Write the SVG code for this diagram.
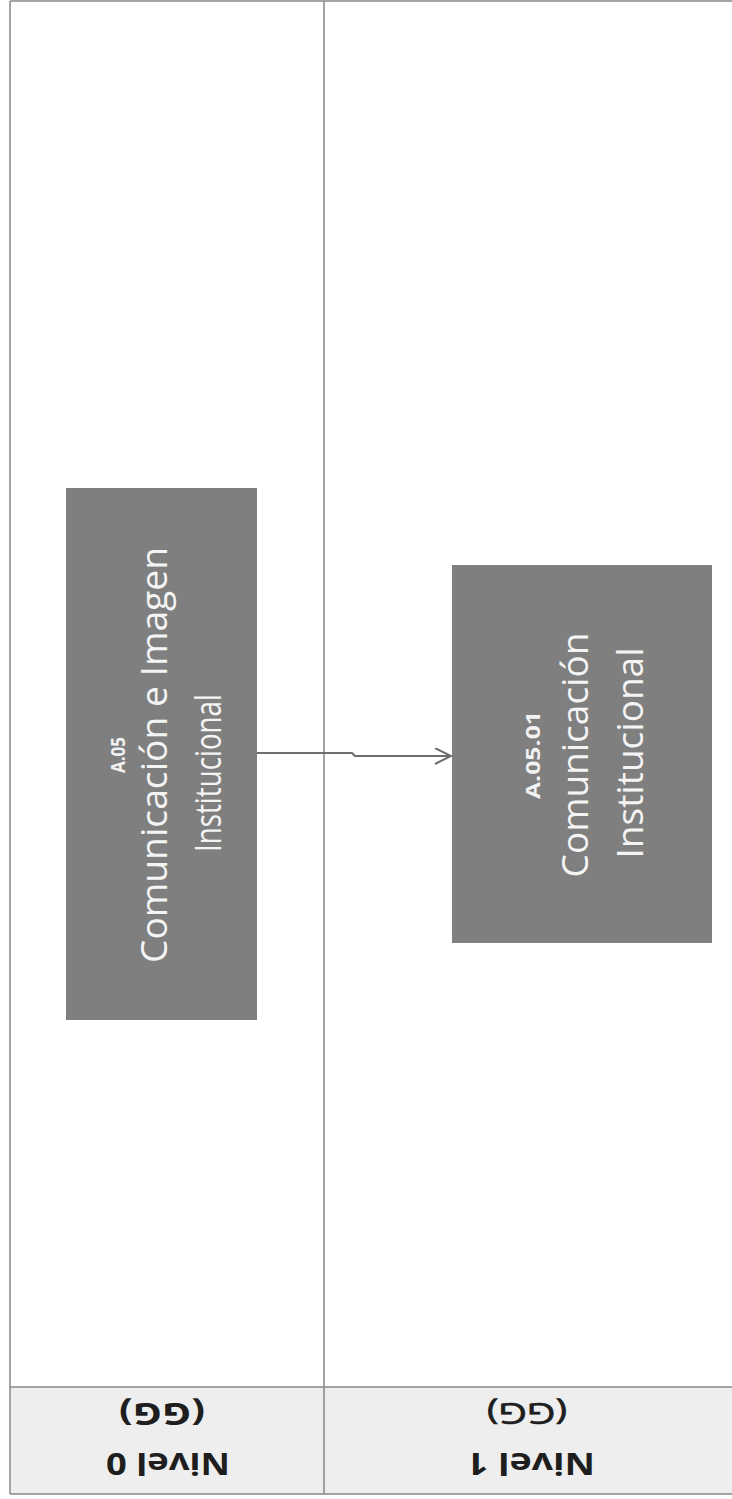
<svg xmlns="http://www.w3.org/2000/svg" width="732" height="1499" viewBox="0 0 732 1499">
  <defs>
    <style>
      .head { fill: #eeeeee; stroke: none; }
      .rule { stroke: #878787; stroke-width: 1.5; fill: none; }
      .box { fill: #7f7f7f; stroke: none; }
      .code { font-family: "Open Sans", "Liberation Sans", sans-serif; font-weight: bold; font-size: 20px; fill: #f2f2f2; text-anchor: middle; }
      .name { font-family: "Open Sans", "Liberation Sans", sans-serif; font-size: 37px; fill: #f4f4f4; text-anchor: middle; }
      .hd { font-family: "Open Sans", "Liberation Sans", sans-serif; font-size: 30px; fill: #1e1e1e; text-anchor: middle; }
      .b { font-weight: bold; }
      .semi { stroke: #1e1e1e; stroke-width: 0.7; }
      .link { stroke: #6e6e6e; stroke-width: 2; fill: none; }
    </style>
    <marker id="open-arrow" markerWidth="20" markerHeight="20" refX="17" refY="8" orient="auto" markerUnits="userSpaceOnUse">
      <path d="M1,0 L17,8 L1,16" fill="none" stroke="#6e6e6e" stroke-width="2"/>
    </marker>
  </defs>

  <rect x="0" y="0" width="732" height="1499" fill="#ffffff"/>

  <!-- swimlane frame -->
  <g id="lanes">
    <rect class="head" x="10" y="1387" width="722" height="107"/>
    <path class="rule" d="M10,1 H732"/>
    <path class="rule" d="M10,1 V1494"/>
    <path class="rule" d="M324,1 V1494"/>
    <path class="rule" d="M10,1387 H732"/>
    <path class="rule" d="M10,1494 H732"/>
  </g>

  <!-- lane headers (printed upside down) -->
  <g id="header-nivel0">
    <text class="hd b" transform="translate(168,1453) rotate(180)" textLength="124" lengthAdjust="spacingAndGlyphs">Nivel 0</text>
    <text class="hd b" transform="translate(162,1403) rotate(180)" textLength="86" lengthAdjust="spacingAndGlyphs">(GG)</text>
  </g>
  <g id="header-nivel1">
    <text class="hd b" transform="translate(531,1453) rotate(180)" textLength="128" lengthAdjust="spacingAndGlyphs">Nivel 1</text>
    <text class="hd semi" transform="translate(527,1403) rotate(180)" textLength="80" lengthAdjust="spacingAndGlyphs">(GG)</text>
  </g>

  <!-- process A.05 -->
  <g id="node-a05">
    <rect class="box" x="66" y="488" width="191" height="532"/>
    <text class="code" transform="translate(125,755) rotate(-90)" textLength="36" lengthAdjust="spacingAndGlyphs">A.05</text>
    <text class="name" transform="translate(167,755) rotate(-90)" textLength="416" lengthAdjust="spacingAndGlyphs">Comunicación e Imagen</text>
    <text class="name" transform="translate(221,773) rotate(-90)" textLength="158" lengthAdjust="spacingAndGlyphs">Institucional</text>
  </g>

  <!-- process A.05.01 -->
  <g id="node-a0501">
    <rect class="box" x="452" y="565" width="260" height="378"/>
    <text class="code" transform="translate(540,755) rotate(-90)" textLength="88" lengthAdjust="spacingAndGlyphs">A.05.01</text>
    <text class="name" transform="translate(588,755) rotate(-90)">Comunicación</text>
    <text class="name" transform="translate(643,753) rotate(-90)">Institucional</text>
  </g>

  <!-- connectors -->
  <g id="connectors">
    <path class="link" d="M257,753 H352 L355,756 H451" marker-end="url(#open-arrow)"/>
  </g>
</svg>
